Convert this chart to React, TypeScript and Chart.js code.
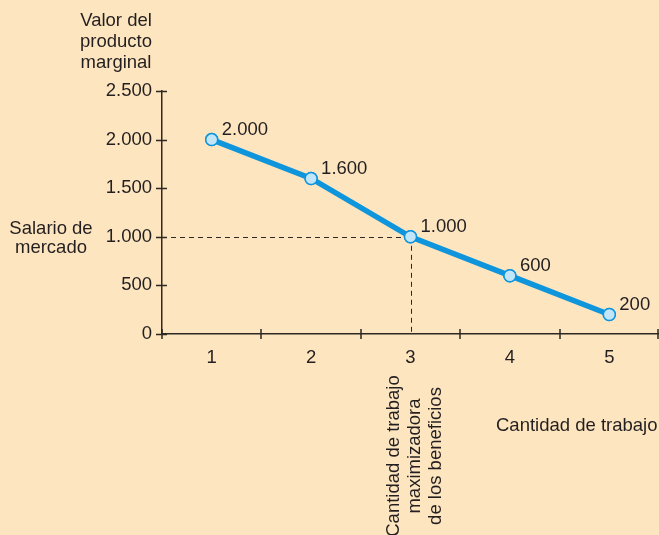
import { useEffect, useRef } from 'react';
import { Chart, registerables } from 'chart.js';

Chart.register(...registerables);

const categories = ['1', '2', '3', '4', '5'];
const values = [2000, 1600, 1000, 600, 200];
const pointLabels = ['2.000', '1.600', '1.000', '600', '200'];
const yMin = 0;
const yMax = 2500;
const yStep = 500;
const yTitle = ['Valor del', 'producto', 'marginal'];
const wageLabel = ['Salario de', 'mercado'];
const wageValue = 1000;
const optimumIndex = 2;
const xTitle = 'Cantidad de trabajo';
const optimumLabel = ['Cantidad de trabajo', 'maximizadora', 'de los beneficios'];

const BG = '#fde5bf';
const TEXT = '#231f20';
const AXIS = '#2e2823';
const LINE = '#0f95dc';
const POINT_FILL = '#c2e5f8';
const FONT_FAMILY = '"Liberation Sans", Arial, Helvetica, sans-serif';
const FONT_SIZE = 18.5;

function fmt(v: number): string {
  if (v >= 1000) {
    return `${Math.floor(v / 1000)}.${String(v % 1000).padStart(3, '0')}`;
  }
  return String(v);
}

const annotationPlugin = {
  id: 'annotations',
  afterDraw(chart: any) {
    const ctx = chart.ctx as CanvasRenderingContext2D;
    const x = chart.scales.x;
    const y = chart.scales.y;
    const area = chart.chartArea;
    const meta = chart.getDatasetMeta(0);
    const opt = meta.data[optimumIndex];
    const wy = y.getPixelForValue(wageValue);

    ctx.save();
    // tick marks crossing the axes
    ctx.strokeStyle = AXIS;
    ctx.lineWidth = 1.5;
    ctx.beginPath();
    for (let v = yMin; v <= yMax; v += yStep) {
      const py = Math.round(y.getPixelForValue(v)) + 0.5;
      ctx.moveTo(area.left - 6, py);
      ctx.lineTo(area.left + 5, py);
    }
    for (let i = 0; i <= categories.length; i++) {
      const px = Math.min(Math.round(x.getPixelForValue(i - 0.5)), chart.width - 1);
      ctx.moveTo(px, area.bottom - 5);
      ctx.lineTo(px, area.bottom + 5);
    }
    ctx.stroke();

    // dashed guides to the optimum point
    ctx.setLineDash([5, 4]);
    ctx.lineWidth = 1;
    ctx.beginPath();
    ctx.moveTo(area.left, Math.round(wy) + 0.5);
    ctx.lineTo(opt.x, Math.round(wy) + 0.5);
    ctx.moveTo(Math.round(opt.x) + 0.5, opt.y);
    ctx.lineTo(Math.round(opt.x) + 0.5, area.bottom);
    ctx.stroke();
    ctx.setLineDash([]);
    ctx.restore();

    // redraw points on top of the dashed lines
    ctx.save();
    meta.data.forEach((pt: any) => pt.draw(ctx, area));
    ctx.restore();

    ctx.save();
    ctx.font = `${FONT_SIZE}px ${FONT_FAMILY}`;
    ctx.fillStyle = TEXT;

    // data labels
    ctx.textAlign = 'left';
    ctx.textBaseline = 'middle';
    meta.data.forEach((pt: any, i: number) => {
      ctx.fillText(pointLabels[i], pt.x + 10, pt.y - 10);
    });

    // y title above axis
    ctx.textAlign = 'center';
    yTitle.forEach((t, i) => {
      ctx.fillText(t, 116, 21 + i * 21);
    });

    // market wage label
    wageLabel.forEach((t, i) => {
      ctx.fillText(t, 51, wy - 8 + i * 19);
    });

    // x title
    ctx.textAlign = 'left';
    ctx.fillText(xTitle, 496, 426);

    // rotated optimum label
    ctx.translate(opt.x - 17, 456);
    ctx.rotate(-Math.PI / 2);
    ctx.textAlign = 'center';
    optimumLabel.forEach((t, i) => {
      ctx.fillText(t, 0, i * 21);
    });
    ctx.restore();
  },
};

export default function App() {
  const canvasRef = useRef<HTMLCanvasElement | null>(null);

  useEffect(() => {
    const canvas = canvasRef.current;
    if (!canvas) return;
    const chart = new Chart(canvas, {
      type: 'line',
      data: {
        labels: categories,
        datasets: [
          {
            data: values,
            borderColor: LINE,
            borderWidth: 5.5,
            backgroundColor: POINT_FILL,
            pointBackgroundColor: POINT_FILL,
            pointBorderColor: LINE,
            pointBorderWidth: 1.5,
            pointRadius: 6,
            fill: false,
            tension: 0,
          },
        ],
      },
      options: {
        responsive: false,
        animation: false,
        events: [],
        layout: { autoPadding: false, padding: { top: 91, left: 0, right: 0, bottom: 0 } },
        plugins: {
          legend: { display: false },
          tooltip: { enabled: false },
          title: { display: false },
        },
        scales: {
          x: {
            type: 'category',
            offset: true,
            grid: { display: false, drawTicks: false },
            border: { display: true, color: AXIS, width: 1.5 },
            ticks: {
              color: TEXT,
              font: { family: FONT_FAMILY, size: FONT_SIZE },
              padding: 13,
              maxRotation: 0,
              autoSkip: false,
            },
            afterFit: (scale: any) => {
              scale.height = 201;
              scale.paddingLeft = 0;
              scale.paddingRight = 0;
            },
          },
          y: {
            min: yMin,
            max: yMax,
            grid: { display: false, drawTicks: false },
            border: { display: true, color: AXIS, width: 1.5 },
            ticks: {
              stepSize: yStep,
              color: TEXT,
              font: { family: FONT_FAMILY, size: FONT_SIZE },
              padding: 10,
              callback: (v: any) => fmt(Number(v)),
            },
            afterFit: (scale: any) => {
              scale.width = 162;
              scale.paddingTop = 0;
              scale.paddingBottom = 0;
            },
          },
        },
      },
      plugins: [annotationPlugin],
    } as any);
    return () => chart.destroy();
  }, []);

  return (
    <div
      style={{
        position: 'fixed',
        left: 0,
        top: 0,
        width: 659,
        height: 535,
        background: BG,
        overflow: 'hidden',
      }}
    >
      <canvas ref={canvasRef} width={659} height={535} style={{ display: 'block' }} />
    </div>
  );
}
